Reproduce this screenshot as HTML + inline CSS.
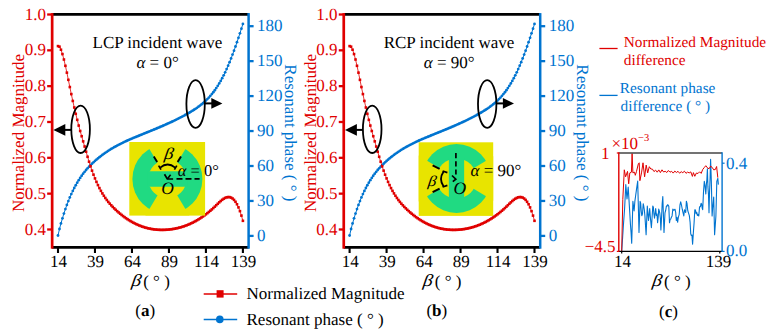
<!DOCTYPE html>
<html><head><meta charset="utf-8"><style>html,body{margin:0;padding:0;background:#fff;overflow:hidden;width:772px;height:334px;}svg{display:block;} text{text-rendering:geometricPrecision;}</style></head>
<body><svg width="772" height="334" viewBox="0 0 772 334" font-family="'Liberation Serif', serif" font-size="17">
<rect width="772" height="334" fill="#fff"/>
<polyline points="58.00,235.50 59.48,228.98 60.96,223.47 62.44,218.33 63.92,213.53 65.40,209.07 66.88,204.91 68.35,201.04 69.83,197.43 71.31,194.07 72.79,190.93 74.27,187.99 75.75,185.23 77.23,182.63 78.71,180.19 80.19,177.90 81.67,175.74 83.15,173.71 84.63,171.80 86.10,170.00 87.58,168.29 89.06,166.68 90.54,165.15 92.02,163.69 93.50,162.30 94.98,160.96 96.46,159.67 97.94,158.42 99.42,157.22 100.90,156.06 102.38,154.93 103.86,153.85 105.33,152.80 106.81,151.79 108.29,150.81 109.77,149.86 111.25,148.95 112.73,148.06 114.21,147.21 115.69,146.38 117.17,145.57 118.65,144.79 120.13,144.03 121.61,143.29 123.08,142.57 124.56,141.87 126.04,141.19 127.52,140.52 129.00,139.86 130.48,139.22 131.96,138.58 133.44,137.96 134.92,137.34 136.40,136.73 137.88,136.13 139.36,135.52 140.84,134.92 142.31,134.32 143.79,133.72 145.27,133.12 146.75,132.52 148.23,131.92 149.71,131.32 151.19,130.72 152.67,130.11 154.15,129.50 155.63,128.88 157.11,128.26 158.59,127.64 160.06,127.01 161.54,126.38 163.02,125.74 164.50,125.09 165.98,124.43 167.46,123.77 168.94,123.10 170.42,122.42 171.90,121.73 173.38,121.03 174.86,120.32 176.34,119.60 177.82,118.86 179.29,118.12 180.77,117.36 182.25,116.59 183.73,115.81 185.21,115.01 186.69,114.19 188.17,113.35 189.65,112.49 191.13,111.60 192.61,110.69 194.09,109.76 195.57,108.79 197.04,107.78 198.52,106.72 200.00,105.62 201.48,104.45 202.96,103.23 204.44,101.93 205.92,100.55 207.40,99.08 208.88,97.53 210.36,95.87 211.84,94.11 213.32,92.24 214.80,90.25 216.27,88.12 217.75,85.87 219.23,83.47 220.71,80.92 222.19,78.22 223.67,75.35 225.15,72.31 226.63,69.10 228.11,65.72 229.59,62.17 231.07,58.47 232.55,54.62 234.02,50.63 235.50,46.49 236.98,42.22 238.46,37.82 239.94,33.30 241.42,28.66 242.90,23.91" fill="none" stroke="#0074d0" stroke-width="1.0"/>
<circle cx="58.00" cy="235.50" r="1.4" fill="#0074d0"/>
<circle cx="59.48" cy="228.98" r="1.4" fill="#0074d0"/>
<circle cx="60.96" cy="223.47" r="1.4" fill="#0074d0"/>
<circle cx="62.44" cy="218.33" r="1.4" fill="#0074d0"/>
<circle cx="63.92" cy="213.53" r="1.4" fill="#0074d0"/>
<circle cx="65.40" cy="209.07" r="1.4" fill="#0074d0"/>
<circle cx="66.88" cy="204.91" r="1.4" fill="#0074d0"/>
<circle cx="68.35" cy="201.04" r="1.4" fill="#0074d0"/>
<circle cx="69.83" cy="197.43" r="1.4" fill="#0074d0"/>
<circle cx="71.31" cy="194.07" r="1.4" fill="#0074d0"/>
<circle cx="72.79" cy="190.93" r="1.4" fill="#0074d0"/>
<circle cx="74.27" cy="187.99" r="1.4" fill="#0074d0"/>
<circle cx="75.75" cy="185.23" r="1.4" fill="#0074d0"/>
<circle cx="77.23" cy="182.63" r="1.4" fill="#0074d0"/>
<circle cx="78.71" cy="180.19" r="1.4" fill="#0074d0"/>
<circle cx="80.19" cy="177.90" r="1.4" fill="#0074d0"/>
<circle cx="81.67" cy="175.74" r="1.4" fill="#0074d0"/>
<circle cx="83.15" cy="173.71" r="1.4" fill="#0074d0"/>
<circle cx="84.63" cy="171.80" r="1.4" fill="#0074d0"/>
<circle cx="86.10" cy="170.00" r="1.4" fill="#0074d0"/>
<circle cx="87.58" cy="168.29" r="1.4" fill="#0074d0"/>
<circle cx="89.06" cy="166.68" r="1.4" fill="#0074d0"/>
<circle cx="90.54" cy="165.15" r="1.4" fill="#0074d0"/>
<circle cx="92.02" cy="163.69" r="1.4" fill="#0074d0"/>
<circle cx="93.50" cy="162.30" r="1.4" fill="#0074d0"/>
<circle cx="94.98" cy="160.96" r="1.4" fill="#0074d0"/>
<circle cx="96.46" cy="159.67" r="1.4" fill="#0074d0"/>
<circle cx="97.94" cy="158.42" r="1.4" fill="#0074d0"/>
<circle cx="99.42" cy="157.22" r="1.4" fill="#0074d0"/>
<circle cx="100.90" cy="156.06" r="1.4" fill="#0074d0"/>
<circle cx="102.38" cy="154.93" r="1.4" fill="#0074d0"/>
<circle cx="103.86" cy="153.85" r="1.4" fill="#0074d0"/>
<circle cx="105.33" cy="152.80" r="1.4" fill="#0074d0"/>
<circle cx="106.81" cy="151.79" r="1.4" fill="#0074d0"/>
<circle cx="108.29" cy="150.81" r="1.4" fill="#0074d0"/>
<circle cx="109.77" cy="149.86" r="1.4" fill="#0074d0"/>
<circle cx="111.25" cy="148.95" r="1.4" fill="#0074d0"/>
<circle cx="112.73" cy="148.06" r="1.4" fill="#0074d0"/>
<circle cx="114.21" cy="147.21" r="1.4" fill="#0074d0"/>
<circle cx="115.69" cy="146.38" r="1.4" fill="#0074d0"/>
<circle cx="117.17" cy="145.57" r="1.4" fill="#0074d0"/>
<circle cx="118.65" cy="144.79" r="1.4" fill="#0074d0"/>
<circle cx="120.13" cy="144.03" r="1.4" fill="#0074d0"/>
<circle cx="121.61" cy="143.29" r="1.4" fill="#0074d0"/>
<circle cx="123.08" cy="142.57" r="1.4" fill="#0074d0"/>
<circle cx="124.56" cy="141.87" r="1.4" fill="#0074d0"/>
<circle cx="126.04" cy="141.19" r="1.4" fill="#0074d0"/>
<circle cx="127.52" cy="140.52" r="1.4" fill="#0074d0"/>
<circle cx="129.00" cy="139.86" r="1.4" fill="#0074d0"/>
<circle cx="130.48" cy="139.22" r="1.4" fill="#0074d0"/>
<circle cx="131.96" cy="138.58" r="1.4" fill="#0074d0"/>
<circle cx="133.44" cy="137.96" r="1.4" fill="#0074d0"/>
<circle cx="134.92" cy="137.34" r="1.4" fill="#0074d0"/>
<circle cx="136.40" cy="136.73" r="1.4" fill="#0074d0"/>
<circle cx="137.88" cy="136.13" r="1.4" fill="#0074d0"/>
<circle cx="139.36" cy="135.52" r="1.4" fill="#0074d0"/>
<circle cx="140.84" cy="134.92" r="1.4" fill="#0074d0"/>
<circle cx="142.31" cy="134.32" r="1.4" fill="#0074d0"/>
<circle cx="143.79" cy="133.72" r="1.4" fill="#0074d0"/>
<circle cx="145.27" cy="133.12" r="1.4" fill="#0074d0"/>
<circle cx="146.75" cy="132.52" r="1.4" fill="#0074d0"/>
<circle cx="148.23" cy="131.92" r="1.4" fill="#0074d0"/>
<circle cx="149.71" cy="131.32" r="1.4" fill="#0074d0"/>
<circle cx="151.19" cy="130.72" r="1.4" fill="#0074d0"/>
<circle cx="152.67" cy="130.11" r="1.4" fill="#0074d0"/>
<circle cx="154.15" cy="129.50" r="1.4" fill="#0074d0"/>
<circle cx="155.63" cy="128.88" r="1.4" fill="#0074d0"/>
<circle cx="157.11" cy="128.26" r="1.4" fill="#0074d0"/>
<circle cx="158.59" cy="127.64" r="1.4" fill="#0074d0"/>
<circle cx="160.06" cy="127.01" r="1.4" fill="#0074d0"/>
<circle cx="161.54" cy="126.38" r="1.4" fill="#0074d0"/>
<circle cx="163.02" cy="125.74" r="1.4" fill="#0074d0"/>
<circle cx="164.50" cy="125.09" r="1.4" fill="#0074d0"/>
<circle cx="165.98" cy="124.43" r="1.4" fill="#0074d0"/>
<circle cx="167.46" cy="123.77" r="1.4" fill="#0074d0"/>
<circle cx="168.94" cy="123.10" r="1.4" fill="#0074d0"/>
<circle cx="170.42" cy="122.42" r="1.4" fill="#0074d0"/>
<circle cx="171.90" cy="121.73" r="1.4" fill="#0074d0"/>
<circle cx="173.38" cy="121.03" r="1.4" fill="#0074d0"/>
<circle cx="174.86" cy="120.32" r="1.4" fill="#0074d0"/>
<circle cx="176.34" cy="119.60" r="1.4" fill="#0074d0"/>
<circle cx="177.82" cy="118.86" r="1.4" fill="#0074d0"/>
<circle cx="179.29" cy="118.12" r="1.4" fill="#0074d0"/>
<circle cx="180.77" cy="117.36" r="1.4" fill="#0074d0"/>
<circle cx="182.25" cy="116.59" r="1.4" fill="#0074d0"/>
<circle cx="183.73" cy="115.81" r="1.4" fill="#0074d0"/>
<circle cx="185.21" cy="115.01" r="1.4" fill="#0074d0"/>
<circle cx="186.69" cy="114.19" r="1.4" fill="#0074d0"/>
<circle cx="188.17" cy="113.35" r="1.4" fill="#0074d0"/>
<circle cx="189.65" cy="112.49" r="1.4" fill="#0074d0"/>
<circle cx="191.13" cy="111.60" r="1.4" fill="#0074d0"/>
<circle cx="192.61" cy="110.69" r="1.4" fill="#0074d0"/>
<circle cx="194.09" cy="109.76" r="1.4" fill="#0074d0"/>
<circle cx="195.57" cy="108.79" r="1.4" fill="#0074d0"/>
<circle cx="197.04" cy="107.78" r="1.4" fill="#0074d0"/>
<circle cx="198.52" cy="106.72" r="1.4" fill="#0074d0"/>
<circle cx="200.00" cy="105.62" r="1.4" fill="#0074d0"/>
<circle cx="201.48" cy="104.45" r="1.4" fill="#0074d0"/>
<circle cx="202.96" cy="103.23" r="1.4" fill="#0074d0"/>
<circle cx="204.44" cy="101.93" r="1.4" fill="#0074d0"/>
<circle cx="205.92" cy="100.55" r="1.4" fill="#0074d0"/>
<circle cx="207.40" cy="99.08" r="1.4" fill="#0074d0"/>
<circle cx="208.88" cy="97.53" r="1.4" fill="#0074d0"/>
<circle cx="210.36" cy="95.87" r="1.4" fill="#0074d0"/>
<circle cx="211.84" cy="94.11" r="1.4" fill="#0074d0"/>
<circle cx="213.32" cy="92.24" r="1.4" fill="#0074d0"/>
<circle cx="214.80" cy="90.25" r="1.4" fill="#0074d0"/>
<circle cx="216.27" cy="88.12" r="1.4" fill="#0074d0"/>
<circle cx="217.75" cy="85.87" r="1.4" fill="#0074d0"/>
<circle cx="219.23" cy="83.47" r="1.4" fill="#0074d0"/>
<circle cx="220.71" cy="80.92" r="1.4" fill="#0074d0"/>
<circle cx="222.19" cy="78.22" r="1.4" fill="#0074d0"/>
<circle cx="223.67" cy="75.35" r="1.4" fill="#0074d0"/>
<circle cx="225.15" cy="72.31" r="1.4" fill="#0074d0"/>
<circle cx="226.63" cy="69.10" r="1.4" fill="#0074d0"/>
<circle cx="228.11" cy="65.72" r="1.4" fill="#0074d0"/>
<circle cx="229.59" cy="62.17" r="1.4" fill="#0074d0"/>
<circle cx="231.07" cy="58.47" r="1.4" fill="#0074d0"/>
<circle cx="232.55" cy="54.62" r="1.4" fill="#0074d0"/>
<circle cx="234.02" cy="50.63" r="1.4" fill="#0074d0"/>
<circle cx="235.50" cy="46.49" r="1.4" fill="#0074d0"/>
<circle cx="236.98" cy="42.22" r="1.4" fill="#0074d0"/>
<circle cx="238.46" cy="37.82" r="1.4" fill="#0074d0"/>
<circle cx="239.94" cy="33.30" r="1.4" fill="#0074d0"/>
<circle cx="241.42" cy="28.66" r="1.4" fill="#0074d0"/>
<circle cx="242.90" cy="23.91" r="1.4" fill="#0074d0"/>
<polyline points="58.00,46.10 59.48,46.67 60.96,49.70 62.44,54.07 63.92,59.52 65.40,65.80 66.88,72.65 68.35,79.82 69.83,87.04 71.31,94.10 72.79,100.93 74.27,107.50 75.75,113.81 77.23,119.84 78.71,125.57 80.19,131.00 81.67,136.22 83.15,141.36 84.63,146.52 86.10,151.69 87.58,156.78 89.06,161.68 90.54,166.32 92.02,170.64 93.50,174.67 94.98,178.41 96.46,181.88 97.94,185.10 99.42,188.09 100.90,190.85 102.38,193.41 103.86,195.78 105.33,197.97 106.81,200.01 108.29,201.90 109.77,203.67 111.25,205.33 112.73,206.89 114.21,208.37 115.69,209.79 117.17,211.16 118.65,212.47 120.13,213.72 121.61,214.93 123.08,216.08 124.56,217.18 126.04,218.22 127.52,219.22 129.00,220.17 130.48,221.07 131.96,221.92 133.44,222.73 134.92,223.49 136.40,224.20 137.88,224.86 139.36,225.49 140.84,226.06 142.31,226.60 143.79,227.09 145.27,227.54 146.75,227.94 148.23,228.31 149.71,228.64 151.19,228.92 152.67,229.17 154.15,229.38 155.63,229.56 157.11,229.69 158.59,229.79 160.06,229.86 161.54,229.89 163.02,229.88 164.50,229.84 165.98,229.77 167.46,229.67 168.94,229.54 170.42,229.37 171.90,229.17 173.38,228.94 174.86,228.68 176.34,228.38 177.82,228.04 179.29,227.67 180.77,227.27 182.25,226.83 183.73,226.35 185.21,225.83 186.69,225.27 188.17,224.68 189.65,224.04 191.13,223.37 192.61,222.66 194.09,221.90 195.57,221.10 197.04,220.26 198.52,219.38 200.00,218.45 201.48,217.48 202.96,216.46 204.44,215.40 205.92,214.30 207.40,213.14 208.88,211.94 210.36,210.70 211.84,209.40 213.32,208.06 214.80,206.66 216.27,205.22 217.75,203.77 219.23,202.35 220.71,201.02 222.19,199.80 223.67,198.75 225.15,197.92 226.63,197.34 228.11,197.07 229.59,197.14 231.07,197.60 232.55,198.50 234.02,199.89 235.50,201.80 236.98,204.28 238.46,207.37 239.94,211.13 241.42,215.60 242.90,220.81" fill="none" stroke="#e00000" stroke-width="0.8"/>
<rect x="56.70" y="44.80" width="2.6" height="2.6" fill="#e00000"/>
<rect x="58.18" y="45.37" width="2.6" height="2.6" fill="#e00000"/>
<rect x="59.66" y="48.40" width="2.6" height="2.6" fill="#e00000"/>
<rect x="61.14" y="52.77" width="2.6" height="2.6" fill="#e00000"/>
<rect x="62.62" y="58.22" width="2.6" height="2.6" fill="#e00000"/>
<rect x="64.10" y="64.50" width="2.6" height="2.6" fill="#e00000"/>
<rect x="65.58" y="71.35" width="2.6" height="2.6" fill="#e00000"/>
<rect x="67.05" y="78.52" width="2.6" height="2.6" fill="#e00000"/>
<rect x="68.53" y="85.74" width="2.6" height="2.6" fill="#e00000"/>
<rect x="70.01" y="92.80" width="2.6" height="2.6" fill="#e00000"/>
<rect x="71.49" y="99.63" width="2.6" height="2.6" fill="#e00000"/>
<rect x="72.97" y="106.20" width="2.6" height="2.6" fill="#e00000"/>
<rect x="74.45" y="112.51" width="2.6" height="2.6" fill="#e00000"/>
<rect x="75.93" y="118.54" width="2.6" height="2.6" fill="#e00000"/>
<rect x="77.41" y="124.27" width="2.6" height="2.6" fill="#e00000"/>
<rect x="78.89" y="129.70" width="2.6" height="2.6" fill="#e00000"/>
<rect x="80.37" y="134.92" width="2.6" height="2.6" fill="#e00000"/>
<rect x="81.85" y="140.06" width="2.6" height="2.6" fill="#e00000"/>
<rect x="83.33" y="145.22" width="2.6" height="2.6" fill="#e00000"/>
<rect x="84.80" y="150.39" width="2.6" height="2.6" fill="#e00000"/>
<rect x="86.28" y="155.48" width="2.6" height="2.6" fill="#e00000"/>
<rect x="87.76" y="160.38" width="2.6" height="2.6" fill="#e00000"/>
<rect x="89.24" y="165.02" width="2.6" height="2.6" fill="#e00000"/>
<rect x="90.72" y="169.34" width="2.6" height="2.6" fill="#e00000"/>
<rect x="92.20" y="173.37" width="2.6" height="2.6" fill="#e00000"/>
<rect x="93.68" y="177.11" width="2.6" height="2.6" fill="#e00000"/>
<rect x="95.16" y="180.58" width="2.6" height="2.6" fill="#e00000"/>
<rect x="96.64" y="183.80" width="2.6" height="2.6" fill="#e00000"/>
<rect x="98.12" y="186.79" width="2.6" height="2.6" fill="#e00000"/>
<rect x="99.60" y="189.55" width="2.6" height="2.6" fill="#e00000"/>
<rect x="101.08" y="192.11" width="2.6" height="2.6" fill="#e00000"/>
<rect x="102.56" y="194.48" width="2.6" height="2.6" fill="#e00000"/>
<rect x="104.03" y="196.67" width="2.6" height="2.6" fill="#e00000"/>
<rect x="105.51" y="198.71" width="2.6" height="2.6" fill="#e00000"/>
<rect x="106.99" y="200.60" width="2.6" height="2.6" fill="#e00000"/>
<rect x="108.47" y="202.37" width="2.6" height="2.6" fill="#e00000"/>
<rect x="109.95" y="204.03" width="2.6" height="2.6" fill="#e00000"/>
<rect x="111.43" y="205.59" width="2.6" height="2.6" fill="#e00000"/>
<rect x="112.91" y="207.07" width="2.6" height="2.6" fill="#e00000"/>
<rect x="114.39" y="208.49" width="2.6" height="2.6" fill="#e00000"/>
<rect x="115.87" y="209.86" width="2.6" height="2.6" fill="#e00000"/>
<rect x="117.35" y="211.17" width="2.6" height="2.6" fill="#e00000"/>
<rect x="118.83" y="212.42" width="2.6" height="2.6" fill="#e00000"/>
<rect x="120.31" y="213.63" width="2.6" height="2.6" fill="#e00000"/>
<rect x="121.78" y="214.78" width="2.6" height="2.6" fill="#e00000"/>
<rect x="123.26" y="215.88" width="2.6" height="2.6" fill="#e00000"/>
<rect x="124.74" y="216.92" width="2.6" height="2.6" fill="#e00000"/>
<rect x="126.22" y="217.92" width="2.6" height="2.6" fill="#e00000"/>
<rect x="127.70" y="218.87" width="2.6" height="2.6" fill="#e00000"/>
<rect x="129.18" y="219.77" width="2.6" height="2.6" fill="#e00000"/>
<rect x="130.66" y="220.62" width="2.6" height="2.6" fill="#e00000"/>
<rect x="132.14" y="221.43" width="2.6" height="2.6" fill="#e00000"/>
<rect x="133.62" y="222.19" width="2.6" height="2.6" fill="#e00000"/>
<rect x="135.10" y="222.90" width="2.6" height="2.6" fill="#e00000"/>
<rect x="136.58" y="223.56" width="2.6" height="2.6" fill="#e00000"/>
<rect x="138.06" y="224.19" width="2.6" height="2.6" fill="#e00000"/>
<rect x="139.54" y="224.76" width="2.6" height="2.6" fill="#e00000"/>
<rect x="141.01" y="225.30" width="2.6" height="2.6" fill="#e00000"/>
<rect x="142.49" y="225.79" width="2.6" height="2.6" fill="#e00000"/>
<rect x="143.97" y="226.24" width="2.6" height="2.6" fill="#e00000"/>
<rect x="145.45" y="226.64" width="2.6" height="2.6" fill="#e00000"/>
<rect x="146.93" y="227.01" width="2.6" height="2.6" fill="#e00000"/>
<rect x="148.41" y="227.34" width="2.6" height="2.6" fill="#e00000"/>
<rect x="149.89" y="227.62" width="2.6" height="2.6" fill="#e00000"/>
<rect x="151.37" y="227.87" width="2.6" height="2.6" fill="#e00000"/>
<rect x="152.85" y="228.08" width="2.6" height="2.6" fill="#e00000"/>
<rect x="154.33" y="228.26" width="2.6" height="2.6" fill="#e00000"/>
<rect x="155.81" y="228.39" width="2.6" height="2.6" fill="#e00000"/>
<rect x="157.29" y="228.49" width="2.6" height="2.6" fill="#e00000"/>
<rect x="158.76" y="228.56" width="2.6" height="2.6" fill="#e00000"/>
<rect x="160.24" y="228.59" width="2.6" height="2.6" fill="#e00000"/>
<rect x="161.72" y="228.58" width="2.6" height="2.6" fill="#e00000"/>
<rect x="163.20" y="228.54" width="2.6" height="2.6" fill="#e00000"/>
<rect x="164.68" y="228.47" width="2.6" height="2.6" fill="#e00000"/>
<rect x="166.16" y="228.37" width="2.6" height="2.6" fill="#e00000"/>
<rect x="167.64" y="228.24" width="2.6" height="2.6" fill="#e00000"/>
<rect x="169.12" y="228.07" width="2.6" height="2.6" fill="#e00000"/>
<rect x="170.60" y="227.87" width="2.6" height="2.6" fill="#e00000"/>
<rect x="172.08" y="227.64" width="2.6" height="2.6" fill="#e00000"/>
<rect x="173.56" y="227.38" width="2.6" height="2.6" fill="#e00000"/>
<rect x="175.04" y="227.08" width="2.6" height="2.6" fill="#e00000"/>
<rect x="176.52" y="226.74" width="2.6" height="2.6" fill="#e00000"/>
<rect x="177.99" y="226.37" width="2.6" height="2.6" fill="#e00000"/>
<rect x="179.47" y="225.97" width="2.6" height="2.6" fill="#e00000"/>
<rect x="180.95" y="225.53" width="2.6" height="2.6" fill="#e00000"/>
<rect x="182.43" y="225.05" width="2.6" height="2.6" fill="#e00000"/>
<rect x="183.91" y="224.53" width="2.6" height="2.6" fill="#e00000"/>
<rect x="185.39" y="223.97" width="2.6" height="2.6" fill="#e00000"/>
<rect x="186.87" y="223.38" width="2.6" height="2.6" fill="#e00000"/>
<rect x="188.35" y="222.74" width="2.6" height="2.6" fill="#e00000"/>
<rect x="189.83" y="222.07" width="2.6" height="2.6" fill="#e00000"/>
<rect x="191.31" y="221.36" width="2.6" height="2.6" fill="#e00000"/>
<rect x="192.79" y="220.60" width="2.6" height="2.6" fill="#e00000"/>
<rect x="194.27" y="219.80" width="2.6" height="2.6" fill="#e00000"/>
<rect x="195.74" y="218.96" width="2.6" height="2.6" fill="#e00000"/>
<rect x="197.22" y="218.08" width="2.6" height="2.6" fill="#e00000"/>
<rect x="198.70" y="217.15" width="2.6" height="2.6" fill="#e00000"/>
<rect x="200.18" y="216.18" width="2.6" height="2.6" fill="#e00000"/>
<rect x="201.66" y="215.16" width="2.6" height="2.6" fill="#e00000"/>
<rect x="203.14" y="214.10" width="2.6" height="2.6" fill="#e00000"/>
<rect x="204.62" y="213.00" width="2.6" height="2.6" fill="#e00000"/>
<rect x="206.10" y="211.84" width="2.6" height="2.6" fill="#e00000"/>
<rect x="207.58" y="210.64" width="2.6" height="2.6" fill="#e00000"/>
<rect x="209.06" y="209.40" width="2.6" height="2.6" fill="#e00000"/>
<rect x="210.54" y="208.10" width="2.6" height="2.6" fill="#e00000"/>
<rect x="212.02" y="206.76" width="2.6" height="2.6" fill="#e00000"/>
<rect x="213.50" y="205.36" width="2.6" height="2.6" fill="#e00000"/>
<rect x="214.97" y="203.92" width="2.6" height="2.6" fill="#e00000"/>
<rect x="216.45" y="202.47" width="2.6" height="2.6" fill="#e00000"/>
<rect x="217.93" y="201.05" width="2.6" height="2.6" fill="#e00000"/>
<rect x="219.41" y="199.72" width="2.6" height="2.6" fill="#e00000"/>
<rect x="220.89" y="198.50" width="2.6" height="2.6" fill="#e00000"/>
<rect x="222.37" y="197.45" width="2.6" height="2.6" fill="#e00000"/>
<rect x="223.85" y="196.62" width="2.6" height="2.6" fill="#e00000"/>
<rect x="225.33" y="196.04" width="2.6" height="2.6" fill="#e00000"/>
<rect x="226.81" y="195.77" width="2.6" height="2.6" fill="#e00000"/>
<rect x="228.29" y="195.84" width="2.6" height="2.6" fill="#e00000"/>
<rect x="229.77" y="196.30" width="2.6" height="2.6" fill="#e00000"/>
<rect x="231.25" y="197.20" width="2.6" height="2.6" fill="#e00000"/>
<rect x="232.72" y="198.59" width="2.6" height="2.6" fill="#e00000"/>
<rect x="234.20" y="200.50" width="2.6" height="2.6" fill="#e00000"/>
<rect x="235.68" y="202.98" width="2.6" height="2.6" fill="#e00000"/>
<rect x="237.16" y="206.07" width="2.6" height="2.6" fill="#e00000"/>
<rect x="238.64" y="209.83" width="2.6" height="2.6" fill="#e00000"/>
<rect x="240.12" y="214.30" width="2.6" height="2.6" fill="#e00000"/>
<rect x="241.60" y="219.51" width="2.6" height="2.6" fill="#e00000"/>
<line x1="52.15" y1="14.45" x2="248.60" y2="14.45" stroke="#000" stroke-width="2.7"/>
<line x1="52.15" y1="247.4" x2="248.60" y2="247.4" stroke="#000" stroke-width="2.7"/>
<line x1="52.15" y1="13.1" x2="52.15" y2="248.7" stroke="#e00000" stroke-width="2.7"/>
<line x1="248.60" y1="13.1" x2="248.60" y2="248.7" stroke="#0074d0" stroke-width="2.5"/>
<line x1="47.15" y1="14.50" x2="52.15" y2="14.50" stroke="#e00000" stroke-width="2.3"/>
<text x="45.95" y="19.60" fill="#e00000" text-anchor="end">1.0</text>
<line x1="47.15" y1="50.33" x2="52.15" y2="50.33" stroke="#e00000" stroke-width="2.3"/>
<text x="45.95" y="55.43" fill="#e00000" text-anchor="end">0.9</text>
<line x1="47.15" y1="86.16" x2="52.15" y2="86.16" stroke="#e00000" stroke-width="2.3"/>
<text x="45.95" y="91.26" fill="#e00000" text-anchor="end">0.8</text>
<line x1="47.15" y1="121.99" x2="52.15" y2="121.99" stroke="#e00000" stroke-width="2.3"/>
<text x="45.95" y="127.09" fill="#e00000" text-anchor="end">0.7</text>
<line x1="47.15" y1="157.82" x2="52.15" y2="157.82" stroke="#e00000" stroke-width="2.3"/>
<text x="45.95" y="162.92" fill="#e00000" text-anchor="end">0.6</text>
<line x1="47.15" y1="193.65" x2="52.15" y2="193.65" stroke="#e00000" stroke-width="2.3"/>
<text x="45.95" y="198.75" fill="#e00000" text-anchor="end">0.5</text>
<line x1="47.15" y1="229.48" x2="52.15" y2="229.48" stroke="#e00000" stroke-width="2.3"/>
<text x="45.95" y="234.58" fill="#e00000" text-anchor="end">0.4</text>
<line x1="248.60" y1="26.20" x2="253.60" y2="26.20" stroke="#0074d0" stroke-width="2.3"/>
<text x="257.10" y="31.00" fill="#0074d0">180</text>
<line x1="248.60" y1="61.15" x2="253.60" y2="61.15" stroke="#0074d0" stroke-width="2.3"/>
<text x="257.10" y="65.95" fill="#0074d0">150</text>
<line x1="248.60" y1="96.10" x2="253.60" y2="96.10" stroke="#0074d0" stroke-width="2.3"/>
<text x="257.10" y="100.90" fill="#0074d0">120</text>
<line x1="248.60" y1="131.05" x2="253.60" y2="131.05" stroke="#0074d0" stroke-width="2.3"/>
<text x="257.10" y="135.85" fill="#0074d0">90</text>
<line x1="248.60" y1="166.00" x2="253.60" y2="166.00" stroke="#0074d0" stroke-width="2.3"/>
<text x="257.10" y="170.80" fill="#0074d0">60</text>
<line x1="248.60" y1="200.95" x2="253.60" y2="200.95" stroke="#0074d0" stroke-width="2.3"/>
<text x="257.10" y="205.75" fill="#0074d0">30</text>
<line x1="248.60" y1="235.90" x2="253.60" y2="235.90" stroke="#0074d0" stroke-width="2.3"/>
<text x="257.10" y="240.70" fill="#0074d0">0</text>
<line x1="58.00" y1="247.4" x2="58.00" y2="253" stroke="#000" stroke-width="2.1"/>
<text x="58.60" y="267.2" fill="#000" text-anchor="middle">14</text>
<line x1="94.98" y1="247.4" x2="94.98" y2="253" stroke="#000" stroke-width="2.1"/>
<text x="95.58" y="267.2" fill="#000" text-anchor="middle">39</text>
<line x1="131.96" y1="247.4" x2="131.96" y2="253" stroke="#000" stroke-width="2.1"/>
<text x="132.56" y="267.2" fill="#000" text-anchor="middle">64</text>
<line x1="168.94" y1="247.4" x2="168.94" y2="253" stroke="#000" stroke-width="2.1"/>
<text x="169.54" y="267.2" fill="#000" text-anchor="middle">89</text>
<line x1="205.92" y1="247.4" x2="205.92" y2="253" stroke="#000" stroke-width="2.1"/>
<text x="206.52" y="267.2" fill="#000" text-anchor="middle">114</text>
<line x1="242.90" y1="247.4" x2="242.90" y2="253" stroke="#000" stroke-width="2.1"/>
<text x="243.50" y="267.2" fill="#000" text-anchor="middle">139</text>
<text transform="translate(24.00,133) rotate(-90)" fill="#e00000" text-anchor="middle">Normalized Magnitude</text>
<text transform="translate(285.10,132.9) rotate(90)" fill="#0074d0" text-anchor="middle">Resonant phase ( ° )</text>
<text transform="translate(130.90,285.5) skewX(-8) scale(1.14,1)" fill="#000" font-style="italic">β</text><text x="143.20" y="286.6" fill="#000">( ° )</text>
<text x="145.20" y="316" fill="#000" text-anchor="middle" >(<tspan font-weight="bold">a</tspan>)</text>
<text x="157.40" y="47.5" fill="#000" text-anchor="middle">LCP incident wave</text>
<text x="157.60" y="67.5" fill="#000" text-anchor="middle"><tspan font-style="italic">α</tspan> = 0°</text>
<ellipse cx="80.60" cy="129.3" rx="9.3" ry="23.7" fill="none" stroke="#000" stroke-width="1.8"/>
<line x1="64.00" y1="129.9" x2="71.30" y2="129.9" stroke="#000" stroke-width="2"/>
<polygon points="53.40,129.9 65.30,124.1 65.30,135.8" fill="#000"/>
<ellipse cx="195.60" cy="104" rx="9.2" ry="23.8" fill="none" stroke="#000" stroke-width="1.8"/>
<line x1="204.60" y1="103.4" x2="212.00" y2="103.4" stroke="#000" stroke-width="2"/>
<polygon points="222.40,103.4 211.30,98 211.30,108.7" fill="#000"/>
<clipPath id="ca"><rect x="129.3" y="142" width="75.8" height="73.6"/></clipPath>
<rect x="129.3" y="142" width="75.8" height="73.6" fill="#e8e400"/>
<g clip-path="url(#ca)">
<circle cx="167.4" cy="179.0" r="35.0" fill="#20da82"/>
<polygon points="167.4,179.0 131.35,119.00 203.45,119.00" fill="#e8e400"/>
<polygon points="167.4,179.0 131.35,239.00 203.45,239.00" fill="#e8e400"/>
<circle cx="167.4" cy="179.0" r="19.2" fill="#e8e400"/>
<rect x="147.20" y="171.25" width="40.40" height="15.5" fill="#20da82"/>
</g>
<line x1="153.8" y1="156.6" x2="157.2" y2="162" stroke="#000" stroke-width="1.9"/>
<line x1="181.0" y1="156.6" x2="177.6" y2="162" stroke="#000" stroke-width="1.9"/>
<path d="M160.2,167.6 Q167.6,161.4 175.2,167.6" fill="none" stroke="#000" stroke-width="1.8"/>
<path d="M158.6,165.6 L161,169.6" fill="none" stroke="#000" stroke-width="1.7"/>
<path d="M176.8,165.6 L174.4,169.6" fill="none" stroke="#000" stroke-width="1.7"/>
<polyline points="164.5,174.2 167.3,179 173.1,179" fill="none" stroke="#000" stroke-width="1.7"/>
<line x1="167.3" y1="179" x2="170.6" y2="174.8" stroke="#000" stroke-width="1.6"/>
<line x1="176.5" y1="178.9" x2="199.6" y2="178.9" stroke="#000" stroke-width="1.7" stroke-dasharray="6,3"/>
<text transform="translate(168.3,158.8) skewX(-8) scale(1.12,1)" fill="#000" font-style="italic" text-anchor="middle" font-size="16.5">β</text>
<text x="167.6" y="193.8" fill="#000" font-style="italic" text-anchor="middle" font-size="17.5">O</text>
<text x="177.8" y="175.6" fill="#000" font-size="16.5"><tspan font-style="italic">α</tspan> = 0°</text>

<polyline points="349.60,235.50 351.08,228.98 352.56,223.47 354.04,218.33 355.52,213.53 357.00,209.07 358.48,204.91 359.95,201.04 361.43,197.43 362.91,194.07 364.39,190.93 365.87,187.99 367.35,185.23 368.83,182.63 370.31,180.19 371.79,177.90 373.27,175.74 374.75,173.71 376.23,171.80 377.70,170.00 379.18,168.29 380.66,166.68 382.14,165.15 383.62,163.69 385.10,162.30 386.58,160.96 388.06,159.67 389.54,158.42 391.02,157.22 392.50,156.06 393.98,154.93 395.46,153.85 396.93,152.80 398.41,151.79 399.89,150.81 401.37,149.86 402.85,148.95 404.33,148.06 405.81,147.21 407.29,146.38 408.77,145.57 410.25,144.79 411.73,144.03 413.21,143.29 414.68,142.57 416.16,141.87 417.64,141.19 419.12,140.52 420.60,139.86 422.08,139.22 423.56,138.58 425.04,137.96 426.52,137.34 428.00,136.73 429.48,136.13 430.96,135.52 432.44,134.92 433.91,134.32 435.39,133.72 436.87,133.12 438.35,132.52 439.83,131.92 441.31,131.32 442.79,130.72 444.27,130.11 445.75,129.50 447.23,128.88 448.71,128.26 450.19,127.64 451.66,127.01 453.14,126.38 454.62,125.74 456.10,125.09 457.58,124.43 459.06,123.77 460.54,123.10 462.02,122.42 463.50,121.73 464.98,121.03 466.46,120.32 467.94,119.60 469.42,118.86 470.89,118.12 472.37,117.36 473.85,116.59 475.33,115.81 476.81,115.01 478.29,114.19 479.77,113.35 481.25,112.49 482.73,111.60 484.21,110.69 485.69,109.76 487.17,108.79 488.64,107.78 490.12,106.72 491.60,105.62 493.08,104.45 494.56,103.23 496.04,101.93 497.52,100.55 499.00,99.08 500.48,97.53 501.96,95.87 503.44,94.11 504.92,92.24 506.40,90.25 507.87,88.12 509.35,85.87 510.83,83.47 512.31,80.92 513.79,78.22 515.27,75.35 516.75,72.31 518.23,69.10 519.71,65.72 521.19,62.17 522.67,58.47 524.15,54.62 525.62,50.63 527.10,46.49 528.58,42.22 530.06,37.82 531.54,33.30 533.02,28.66 534.50,23.91" fill="none" stroke="#0074d0" stroke-width="1.0"/>
<circle cx="349.60" cy="235.50" r="1.4" fill="#0074d0"/>
<circle cx="351.08" cy="228.98" r="1.4" fill="#0074d0"/>
<circle cx="352.56" cy="223.47" r="1.4" fill="#0074d0"/>
<circle cx="354.04" cy="218.33" r="1.4" fill="#0074d0"/>
<circle cx="355.52" cy="213.53" r="1.4" fill="#0074d0"/>
<circle cx="357.00" cy="209.07" r="1.4" fill="#0074d0"/>
<circle cx="358.48" cy="204.91" r="1.4" fill="#0074d0"/>
<circle cx="359.95" cy="201.04" r="1.4" fill="#0074d0"/>
<circle cx="361.43" cy="197.43" r="1.4" fill="#0074d0"/>
<circle cx="362.91" cy="194.07" r="1.4" fill="#0074d0"/>
<circle cx="364.39" cy="190.93" r="1.4" fill="#0074d0"/>
<circle cx="365.87" cy="187.99" r="1.4" fill="#0074d0"/>
<circle cx="367.35" cy="185.23" r="1.4" fill="#0074d0"/>
<circle cx="368.83" cy="182.63" r="1.4" fill="#0074d0"/>
<circle cx="370.31" cy="180.19" r="1.4" fill="#0074d0"/>
<circle cx="371.79" cy="177.90" r="1.4" fill="#0074d0"/>
<circle cx="373.27" cy="175.74" r="1.4" fill="#0074d0"/>
<circle cx="374.75" cy="173.71" r="1.4" fill="#0074d0"/>
<circle cx="376.23" cy="171.80" r="1.4" fill="#0074d0"/>
<circle cx="377.70" cy="170.00" r="1.4" fill="#0074d0"/>
<circle cx="379.18" cy="168.29" r="1.4" fill="#0074d0"/>
<circle cx="380.66" cy="166.68" r="1.4" fill="#0074d0"/>
<circle cx="382.14" cy="165.15" r="1.4" fill="#0074d0"/>
<circle cx="383.62" cy="163.69" r="1.4" fill="#0074d0"/>
<circle cx="385.10" cy="162.30" r="1.4" fill="#0074d0"/>
<circle cx="386.58" cy="160.96" r="1.4" fill="#0074d0"/>
<circle cx="388.06" cy="159.67" r="1.4" fill="#0074d0"/>
<circle cx="389.54" cy="158.42" r="1.4" fill="#0074d0"/>
<circle cx="391.02" cy="157.22" r="1.4" fill="#0074d0"/>
<circle cx="392.50" cy="156.06" r="1.4" fill="#0074d0"/>
<circle cx="393.98" cy="154.93" r="1.4" fill="#0074d0"/>
<circle cx="395.46" cy="153.85" r="1.4" fill="#0074d0"/>
<circle cx="396.93" cy="152.80" r="1.4" fill="#0074d0"/>
<circle cx="398.41" cy="151.79" r="1.4" fill="#0074d0"/>
<circle cx="399.89" cy="150.81" r="1.4" fill="#0074d0"/>
<circle cx="401.37" cy="149.86" r="1.4" fill="#0074d0"/>
<circle cx="402.85" cy="148.95" r="1.4" fill="#0074d0"/>
<circle cx="404.33" cy="148.06" r="1.4" fill="#0074d0"/>
<circle cx="405.81" cy="147.21" r="1.4" fill="#0074d0"/>
<circle cx="407.29" cy="146.38" r="1.4" fill="#0074d0"/>
<circle cx="408.77" cy="145.57" r="1.4" fill="#0074d0"/>
<circle cx="410.25" cy="144.79" r="1.4" fill="#0074d0"/>
<circle cx="411.73" cy="144.03" r="1.4" fill="#0074d0"/>
<circle cx="413.21" cy="143.29" r="1.4" fill="#0074d0"/>
<circle cx="414.68" cy="142.57" r="1.4" fill="#0074d0"/>
<circle cx="416.16" cy="141.87" r="1.4" fill="#0074d0"/>
<circle cx="417.64" cy="141.19" r="1.4" fill="#0074d0"/>
<circle cx="419.12" cy="140.52" r="1.4" fill="#0074d0"/>
<circle cx="420.60" cy="139.86" r="1.4" fill="#0074d0"/>
<circle cx="422.08" cy="139.22" r="1.4" fill="#0074d0"/>
<circle cx="423.56" cy="138.58" r="1.4" fill="#0074d0"/>
<circle cx="425.04" cy="137.96" r="1.4" fill="#0074d0"/>
<circle cx="426.52" cy="137.34" r="1.4" fill="#0074d0"/>
<circle cx="428.00" cy="136.73" r="1.4" fill="#0074d0"/>
<circle cx="429.48" cy="136.13" r="1.4" fill="#0074d0"/>
<circle cx="430.96" cy="135.52" r="1.4" fill="#0074d0"/>
<circle cx="432.44" cy="134.92" r="1.4" fill="#0074d0"/>
<circle cx="433.91" cy="134.32" r="1.4" fill="#0074d0"/>
<circle cx="435.39" cy="133.72" r="1.4" fill="#0074d0"/>
<circle cx="436.87" cy="133.12" r="1.4" fill="#0074d0"/>
<circle cx="438.35" cy="132.52" r="1.4" fill="#0074d0"/>
<circle cx="439.83" cy="131.92" r="1.4" fill="#0074d0"/>
<circle cx="441.31" cy="131.32" r="1.4" fill="#0074d0"/>
<circle cx="442.79" cy="130.72" r="1.4" fill="#0074d0"/>
<circle cx="444.27" cy="130.11" r="1.4" fill="#0074d0"/>
<circle cx="445.75" cy="129.50" r="1.4" fill="#0074d0"/>
<circle cx="447.23" cy="128.88" r="1.4" fill="#0074d0"/>
<circle cx="448.71" cy="128.26" r="1.4" fill="#0074d0"/>
<circle cx="450.19" cy="127.64" r="1.4" fill="#0074d0"/>
<circle cx="451.66" cy="127.01" r="1.4" fill="#0074d0"/>
<circle cx="453.14" cy="126.38" r="1.4" fill="#0074d0"/>
<circle cx="454.62" cy="125.74" r="1.4" fill="#0074d0"/>
<circle cx="456.10" cy="125.09" r="1.4" fill="#0074d0"/>
<circle cx="457.58" cy="124.43" r="1.4" fill="#0074d0"/>
<circle cx="459.06" cy="123.77" r="1.4" fill="#0074d0"/>
<circle cx="460.54" cy="123.10" r="1.4" fill="#0074d0"/>
<circle cx="462.02" cy="122.42" r="1.4" fill="#0074d0"/>
<circle cx="463.50" cy="121.73" r="1.4" fill="#0074d0"/>
<circle cx="464.98" cy="121.03" r="1.4" fill="#0074d0"/>
<circle cx="466.46" cy="120.32" r="1.4" fill="#0074d0"/>
<circle cx="467.94" cy="119.60" r="1.4" fill="#0074d0"/>
<circle cx="469.42" cy="118.86" r="1.4" fill="#0074d0"/>
<circle cx="470.89" cy="118.12" r="1.4" fill="#0074d0"/>
<circle cx="472.37" cy="117.36" r="1.4" fill="#0074d0"/>
<circle cx="473.85" cy="116.59" r="1.4" fill="#0074d0"/>
<circle cx="475.33" cy="115.81" r="1.4" fill="#0074d0"/>
<circle cx="476.81" cy="115.01" r="1.4" fill="#0074d0"/>
<circle cx="478.29" cy="114.19" r="1.4" fill="#0074d0"/>
<circle cx="479.77" cy="113.35" r="1.4" fill="#0074d0"/>
<circle cx="481.25" cy="112.49" r="1.4" fill="#0074d0"/>
<circle cx="482.73" cy="111.60" r="1.4" fill="#0074d0"/>
<circle cx="484.21" cy="110.69" r="1.4" fill="#0074d0"/>
<circle cx="485.69" cy="109.76" r="1.4" fill="#0074d0"/>
<circle cx="487.17" cy="108.79" r="1.4" fill="#0074d0"/>
<circle cx="488.64" cy="107.78" r="1.4" fill="#0074d0"/>
<circle cx="490.12" cy="106.72" r="1.4" fill="#0074d0"/>
<circle cx="491.60" cy="105.62" r="1.4" fill="#0074d0"/>
<circle cx="493.08" cy="104.45" r="1.4" fill="#0074d0"/>
<circle cx="494.56" cy="103.23" r="1.4" fill="#0074d0"/>
<circle cx="496.04" cy="101.93" r="1.4" fill="#0074d0"/>
<circle cx="497.52" cy="100.55" r="1.4" fill="#0074d0"/>
<circle cx="499.00" cy="99.08" r="1.4" fill="#0074d0"/>
<circle cx="500.48" cy="97.53" r="1.4" fill="#0074d0"/>
<circle cx="501.96" cy="95.87" r="1.4" fill="#0074d0"/>
<circle cx="503.44" cy="94.11" r="1.4" fill="#0074d0"/>
<circle cx="504.92" cy="92.24" r="1.4" fill="#0074d0"/>
<circle cx="506.40" cy="90.25" r="1.4" fill="#0074d0"/>
<circle cx="507.87" cy="88.12" r="1.4" fill="#0074d0"/>
<circle cx="509.35" cy="85.87" r="1.4" fill="#0074d0"/>
<circle cx="510.83" cy="83.47" r="1.4" fill="#0074d0"/>
<circle cx="512.31" cy="80.92" r="1.4" fill="#0074d0"/>
<circle cx="513.79" cy="78.22" r="1.4" fill="#0074d0"/>
<circle cx="515.27" cy="75.35" r="1.4" fill="#0074d0"/>
<circle cx="516.75" cy="72.31" r="1.4" fill="#0074d0"/>
<circle cx="518.23" cy="69.10" r="1.4" fill="#0074d0"/>
<circle cx="519.71" cy="65.72" r="1.4" fill="#0074d0"/>
<circle cx="521.19" cy="62.17" r="1.4" fill="#0074d0"/>
<circle cx="522.67" cy="58.47" r="1.4" fill="#0074d0"/>
<circle cx="524.15" cy="54.62" r="1.4" fill="#0074d0"/>
<circle cx="525.62" cy="50.63" r="1.4" fill="#0074d0"/>
<circle cx="527.10" cy="46.49" r="1.4" fill="#0074d0"/>
<circle cx="528.58" cy="42.22" r="1.4" fill="#0074d0"/>
<circle cx="530.06" cy="37.82" r="1.4" fill="#0074d0"/>
<circle cx="531.54" cy="33.30" r="1.4" fill="#0074d0"/>
<circle cx="533.02" cy="28.66" r="1.4" fill="#0074d0"/>
<circle cx="534.50" cy="23.91" r="1.4" fill="#0074d0"/>
<polyline points="349.60,46.10 351.08,46.67 352.56,49.70 354.04,54.07 355.52,59.52 357.00,65.80 358.48,72.65 359.95,79.82 361.43,87.04 362.91,94.10 364.39,100.93 365.87,107.50 367.35,113.81 368.83,119.84 370.31,125.57 371.79,131.00 373.27,136.22 374.75,141.36 376.23,146.52 377.70,151.69 379.18,156.78 380.66,161.68 382.14,166.32 383.62,170.64 385.10,174.67 386.58,178.41 388.06,181.88 389.54,185.10 391.02,188.09 392.50,190.85 393.98,193.41 395.46,195.78 396.93,197.97 398.41,200.01 399.89,201.90 401.37,203.67 402.85,205.33 404.33,206.89 405.81,208.37 407.29,209.79 408.77,211.16 410.25,212.47 411.73,213.72 413.21,214.93 414.68,216.08 416.16,217.18 417.64,218.22 419.12,219.22 420.60,220.17 422.08,221.07 423.56,221.92 425.04,222.73 426.52,223.49 428.00,224.20 429.48,224.86 430.96,225.49 432.44,226.06 433.91,226.60 435.39,227.09 436.87,227.54 438.35,227.94 439.83,228.31 441.31,228.64 442.79,228.92 444.27,229.17 445.75,229.38 447.23,229.56 448.71,229.69 450.19,229.79 451.66,229.86 453.14,229.89 454.62,229.88 456.10,229.84 457.58,229.77 459.06,229.67 460.54,229.54 462.02,229.37 463.50,229.17 464.98,228.94 466.46,228.68 467.94,228.38 469.42,228.04 470.89,227.67 472.37,227.27 473.85,226.83 475.33,226.35 476.81,225.83 478.29,225.27 479.77,224.68 481.25,224.04 482.73,223.37 484.21,222.66 485.69,221.90 487.17,221.10 488.64,220.26 490.12,219.38 491.60,218.45 493.08,217.48 494.56,216.46 496.04,215.40 497.52,214.30 499.00,213.14 500.48,211.94 501.96,210.70 503.44,209.40 504.92,208.06 506.40,206.66 507.87,205.22 509.35,203.77 510.83,202.35 512.31,201.02 513.79,199.80 515.27,198.75 516.75,197.92 518.23,197.34 519.71,197.07 521.19,197.14 522.67,197.60 524.15,198.50 525.62,199.89 527.10,201.80 528.58,204.28 530.06,207.37 531.54,211.13 533.02,215.60 534.50,220.81" fill="none" stroke="#e00000" stroke-width="0.8"/>
<rect x="348.30" y="44.80" width="2.6" height="2.6" fill="#e00000"/>
<rect x="349.78" y="45.37" width="2.6" height="2.6" fill="#e00000"/>
<rect x="351.26" y="48.40" width="2.6" height="2.6" fill="#e00000"/>
<rect x="352.74" y="52.77" width="2.6" height="2.6" fill="#e00000"/>
<rect x="354.22" y="58.22" width="2.6" height="2.6" fill="#e00000"/>
<rect x="355.70" y="64.50" width="2.6" height="2.6" fill="#e00000"/>
<rect x="357.18" y="71.35" width="2.6" height="2.6" fill="#e00000"/>
<rect x="358.65" y="78.52" width="2.6" height="2.6" fill="#e00000"/>
<rect x="360.13" y="85.74" width="2.6" height="2.6" fill="#e00000"/>
<rect x="361.61" y="92.80" width="2.6" height="2.6" fill="#e00000"/>
<rect x="363.09" y="99.63" width="2.6" height="2.6" fill="#e00000"/>
<rect x="364.57" y="106.20" width="2.6" height="2.6" fill="#e00000"/>
<rect x="366.05" y="112.51" width="2.6" height="2.6" fill="#e00000"/>
<rect x="367.53" y="118.54" width="2.6" height="2.6" fill="#e00000"/>
<rect x="369.01" y="124.27" width="2.6" height="2.6" fill="#e00000"/>
<rect x="370.49" y="129.70" width="2.6" height="2.6" fill="#e00000"/>
<rect x="371.97" y="134.92" width="2.6" height="2.6" fill="#e00000"/>
<rect x="373.45" y="140.06" width="2.6" height="2.6" fill="#e00000"/>
<rect x="374.93" y="145.22" width="2.6" height="2.6" fill="#e00000"/>
<rect x="376.40" y="150.39" width="2.6" height="2.6" fill="#e00000"/>
<rect x="377.88" y="155.48" width="2.6" height="2.6" fill="#e00000"/>
<rect x="379.36" y="160.38" width="2.6" height="2.6" fill="#e00000"/>
<rect x="380.84" y="165.02" width="2.6" height="2.6" fill="#e00000"/>
<rect x="382.32" y="169.34" width="2.6" height="2.6" fill="#e00000"/>
<rect x="383.80" y="173.37" width="2.6" height="2.6" fill="#e00000"/>
<rect x="385.28" y="177.11" width="2.6" height="2.6" fill="#e00000"/>
<rect x="386.76" y="180.58" width="2.6" height="2.6" fill="#e00000"/>
<rect x="388.24" y="183.80" width="2.6" height="2.6" fill="#e00000"/>
<rect x="389.72" y="186.79" width="2.6" height="2.6" fill="#e00000"/>
<rect x="391.20" y="189.55" width="2.6" height="2.6" fill="#e00000"/>
<rect x="392.68" y="192.11" width="2.6" height="2.6" fill="#e00000"/>
<rect x="394.16" y="194.48" width="2.6" height="2.6" fill="#e00000"/>
<rect x="395.63" y="196.67" width="2.6" height="2.6" fill="#e00000"/>
<rect x="397.11" y="198.71" width="2.6" height="2.6" fill="#e00000"/>
<rect x="398.59" y="200.60" width="2.6" height="2.6" fill="#e00000"/>
<rect x="400.07" y="202.37" width="2.6" height="2.6" fill="#e00000"/>
<rect x="401.55" y="204.03" width="2.6" height="2.6" fill="#e00000"/>
<rect x="403.03" y="205.59" width="2.6" height="2.6" fill="#e00000"/>
<rect x="404.51" y="207.07" width="2.6" height="2.6" fill="#e00000"/>
<rect x="405.99" y="208.49" width="2.6" height="2.6" fill="#e00000"/>
<rect x="407.47" y="209.86" width="2.6" height="2.6" fill="#e00000"/>
<rect x="408.95" y="211.17" width="2.6" height="2.6" fill="#e00000"/>
<rect x="410.43" y="212.42" width="2.6" height="2.6" fill="#e00000"/>
<rect x="411.91" y="213.63" width="2.6" height="2.6" fill="#e00000"/>
<rect x="413.38" y="214.78" width="2.6" height="2.6" fill="#e00000"/>
<rect x="414.86" y="215.88" width="2.6" height="2.6" fill="#e00000"/>
<rect x="416.34" y="216.92" width="2.6" height="2.6" fill="#e00000"/>
<rect x="417.82" y="217.92" width="2.6" height="2.6" fill="#e00000"/>
<rect x="419.30" y="218.87" width="2.6" height="2.6" fill="#e00000"/>
<rect x="420.78" y="219.77" width="2.6" height="2.6" fill="#e00000"/>
<rect x="422.26" y="220.62" width="2.6" height="2.6" fill="#e00000"/>
<rect x="423.74" y="221.43" width="2.6" height="2.6" fill="#e00000"/>
<rect x="425.22" y="222.19" width="2.6" height="2.6" fill="#e00000"/>
<rect x="426.70" y="222.90" width="2.6" height="2.6" fill="#e00000"/>
<rect x="428.18" y="223.56" width="2.6" height="2.6" fill="#e00000"/>
<rect x="429.66" y="224.19" width="2.6" height="2.6" fill="#e00000"/>
<rect x="431.14" y="224.76" width="2.6" height="2.6" fill="#e00000"/>
<rect x="432.61" y="225.30" width="2.6" height="2.6" fill="#e00000"/>
<rect x="434.09" y="225.79" width="2.6" height="2.6" fill="#e00000"/>
<rect x="435.57" y="226.24" width="2.6" height="2.6" fill="#e00000"/>
<rect x="437.05" y="226.64" width="2.6" height="2.6" fill="#e00000"/>
<rect x="438.53" y="227.01" width="2.6" height="2.6" fill="#e00000"/>
<rect x="440.01" y="227.34" width="2.6" height="2.6" fill="#e00000"/>
<rect x="441.49" y="227.62" width="2.6" height="2.6" fill="#e00000"/>
<rect x="442.97" y="227.87" width="2.6" height="2.6" fill="#e00000"/>
<rect x="444.45" y="228.08" width="2.6" height="2.6" fill="#e00000"/>
<rect x="445.93" y="228.26" width="2.6" height="2.6" fill="#e00000"/>
<rect x="447.41" y="228.39" width="2.6" height="2.6" fill="#e00000"/>
<rect x="448.89" y="228.49" width="2.6" height="2.6" fill="#e00000"/>
<rect x="450.36" y="228.56" width="2.6" height="2.6" fill="#e00000"/>
<rect x="451.84" y="228.59" width="2.6" height="2.6" fill="#e00000"/>
<rect x="453.32" y="228.58" width="2.6" height="2.6" fill="#e00000"/>
<rect x="454.80" y="228.54" width="2.6" height="2.6" fill="#e00000"/>
<rect x="456.28" y="228.47" width="2.6" height="2.6" fill="#e00000"/>
<rect x="457.76" y="228.37" width="2.6" height="2.6" fill="#e00000"/>
<rect x="459.24" y="228.24" width="2.6" height="2.6" fill="#e00000"/>
<rect x="460.72" y="228.07" width="2.6" height="2.6" fill="#e00000"/>
<rect x="462.20" y="227.87" width="2.6" height="2.6" fill="#e00000"/>
<rect x="463.68" y="227.64" width="2.6" height="2.6" fill="#e00000"/>
<rect x="465.16" y="227.38" width="2.6" height="2.6" fill="#e00000"/>
<rect x="466.64" y="227.08" width="2.6" height="2.6" fill="#e00000"/>
<rect x="468.12" y="226.74" width="2.6" height="2.6" fill="#e00000"/>
<rect x="469.59" y="226.37" width="2.6" height="2.6" fill="#e00000"/>
<rect x="471.07" y="225.97" width="2.6" height="2.6" fill="#e00000"/>
<rect x="472.55" y="225.53" width="2.6" height="2.6" fill="#e00000"/>
<rect x="474.03" y="225.05" width="2.6" height="2.6" fill="#e00000"/>
<rect x="475.51" y="224.53" width="2.6" height="2.6" fill="#e00000"/>
<rect x="476.99" y="223.97" width="2.6" height="2.6" fill="#e00000"/>
<rect x="478.47" y="223.38" width="2.6" height="2.6" fill="#e00000"/>
<rect x="479.95" y="222.74" width="2.6" height="2.6" fill="#e00000"/>
<rect x="481.43" y="222.07" width="2.6" height="2.6" fill="#e00000"/>
<rect x="482.91" y="221.36" width="2.6" height="2.6" fill="#e00000"/>
<rect x="484.39" y="220.60" width="2.6" height="2.6" fill="#e00000"/>
<rect x="485.87" y="219.80" width="2.6" height="2.6" fill="#e00000"/>
<rect x="487.34" y="218.96" width="2.6" height="2.6" fill="#e00000"/>
<rect x="488.82" y="218.08" width="2.6" height="2.6" fill="#e00000"/>
<rect x="490.30" y="217.15" width="2.6" height="2.6" fill="#e00000"/>
<rect x="491.78" y="216.18" width="2.6" height="2.6" fill="#e00000"/>
<rect x="493.26" y="215.16" width="2.6" height="2.6" fill="#e00000"/>
<rect x="494.74" y="214.10" width="2.6" height="2.6" fill="#e00000"/>
<rect x="496.22" y="213.00" width="2.6" height="2.6" fill="#e00000"/>
<rect x="497.70" y="211.84" width="2.6" height="2.6" fill="#e00000"/>
<rect x="499.18" y="210.64" width="2.6" height="2.6" fill="#e00000"/>
<rect x="500.66" y="209.40" width="2.6" height="2.6" fill="#e00000"/>
<rect x="502.14" y="208.10" width="2.6" height="2.6" fill="#e00000"/>
<rect x="503.62" y="206.76" width="2.6" height="2.6" fill="#e00000"/>
<rect x="505.10" y="205.36" width="2.6" height="2.6" fill="#e00000"/>
<rect x="506.57" y="203.92" width="2.6" height="2.6" fill="#e00000"/>
<rect x="508.05" y="202.47" width="2.6" height="2.6" fill="#e00000"/>
<rect x="509.53" y="201.05" width="2.6" height="2.6" fill="#e00000"/>
<rect x="511.01" y="199.72" width="2.6" height="2.6" fill="#e00000"/>
<rect x="512.49" y="198.50" width="2.6" height="2.6" fill="#e00000"/>
<rect x="513.97" y="197.45" width="2.6" height="2.6" fill="#e00000"/>
<rect x="515.45" y="196.62" width="2.6" height="2.6" fill="#e00000"/>
<rect x="516.93" y="196.04" width="2.6" height="2.6" fill="#e00000"/>
<rect x="518.41" y="195.77" width="2.6" height="2.6" fill="#e00000"/>
<rect x="519.89" y="195.84" width="2.6" height="2.6" fill="#e00000"/>
<rect x="521.37" y="196.30" width="2.6" height="2.6" fill="#e00000"/>
<rect x="522.85" y="197.20" width="2.6" height="2.6" fill="#e00000"/>
<rect x="524.32" y="198.59" width="2.6" height="2.6" fill="#e00000"/>
<rect x="525.80" y="200.50" width="2.6" height="2.6" fill="#e00000"/>
<rect x="527.28" y="202.98" width="2.6" height="2.6" fill="#e00000"/>
<rect x="528.76" y="206.07" width="2.6" height="2.6" fill="#e00000"/>
<rect x="530.24" y="209.83" width="2.6" height="2.6" fill="#e00000"/>
<rect x="531.72" y="214.30" width="2.6" height="2.6" fill="#e00000"/>
<rect x="533.20" y="219.51" width="2.6" height="2.6" fill="#e00000"/>
<line x1="343.75" y1="14.45" x2="540.20" y2="14.45" stroke="#000" stroke-width="2.7"/>
<line x1="343.75" y1="247.4" x2="540.20" y2="247.4" stroke="#000" stroke-width="2.7"/>
<line x1="343.75" y1="13.1" x2="343.75" y2="248.7" stroke="#e00000" stroke-width="2.7"/>
<line x1="540.20" y1="13.1" x2="540.20" y2="248.7" stroke="#0074d0" stroke-width="2.5"/>
<line x1="338.75" y1="14.50" x2="343.75" y2="14.50" stroke="#e00000" stroke-width="2.3"/>
<text x="337.55" y="19.60" fill="#e00000" text-anchor="end">1.0</text>
<line x1="338.75" y1="50.33" x2="343.75" y2="50.33" stroke="#e00000" stroke-width="2.3"/>
<text x="337.55" y="55.43" fill="#e00000" text-anchor="end">0.9</text>
<line x1="338.75" y1="86.16" x2="343.75" y2="86.16" stroke="#e00000" stroke-width="2.3"/>
<text x="337.55" y="91.26" fill="#e00000" text-anchor="end">0.8</text>
<line x1="338.75" y1="121.99" x2="343.75" y2="121.99" stroke="#e00000" stroke-width="2.3"/>
<text x="337.55" y="127.09" fill="#e00000" text-anchor="end">0.7</text>
<line x1="338.75" y1="157.82" x2="343.75" y2="157.82" stroke="#e00000" stroke-width="2.3"/>
<text x="337.55" y="162.92" fill="#e00000" text-anchor="end">0.6</text>
<line x1="338.75" y1="193.65" x2="343.75" y2="193.65" stroke="#e00000" stroke-width="2.3"/>
<text x="337.55" y="198.75" fill="#e00000" text-anchor="end">0.5</text>
<line x1="338.75" y1="229.48" x2="343.75" y2="229.48" stroke="#e00000" stroke-width="2.3"/>
<text x="337.55" y="234.58" fill="#e00000" text-anchor="end">0.4</text>
<line x1="540.20" y1="26.20" x2="545.20" y2="26.20" stroke="#0074d0" stroke-width="2.3"/>
<text x="548.70" y="31.00" fill="#0074d0">180</text>
<line x1="540.20" y1="61.15" x2="545.20" y2="61.15" stroke="#0074d0" stroke-width="2.3"/>
<text x="548.70" y="65.95" fill="#0074d0">150</text>
<line x1="540.20" y1="96.10" x2="545.20" y2="96.10" stroke="#0074d0" stroke-width="2.3"/>
<text x="548.70" y="100.90" fill="#0074d0">120</text>
<line x1="540.20" y1="131.05" x2="545.20" y2="131.05" stroke="#0074d0" stroke-width="2.3"/>
<text x="548.70" y="135.85" fill="#0074d0">90</text>
<line x1="540.20" y1="166.00" x2="545.20" y2="166.00" stroke="#0074d0" stroke-width="2.3"/>
<text x="548.70" y="170.80" fill="#0074d0">60</text>
<line x1="540.20" y1="200.95" x2="545.20" y2="200.95" stroke="#0074d0" stroke-width="2.3"/>
<text x="548.70" y="205.75" fill="#0074d0">30</text>
<line x1="540.20" y1="235.90" x2="545.20" y2="235.90" stroke="#0074d0" stroke-width="2.3"/>
<text x="548.70" y="240.70" fill="#0074d0">0</text>
<line x1="349.60" y1="247.4" x2="349.60" y2="253" stroke="#000" stroke-width="2.1"/>
<text x="350.20" y="267.2" fill="#000" text-anchor="middle">14</text>
<line x1="386.58" y1="247.4" x2="386.58" y2="253" stroke="#000" stroke-width="2.1"/>
<text x="387.18" y="267.2" fill="#000" text-anchor="middle">39</text>
<line x1="423.56" y1="247.4" x2="423.56" y2="253" stroke="#000" stroke-width="2.1"/>
<text x="424.16" y="267.2" fill="#000" text-anchor="middle">64</text>
<line x1="460.54" y1="247.4" x2="460.54" y2="253" stroke="#000" stroke-width="2.1"/>
<text x="461.14" y="267.2" fill="#000" text-anchor="middle">89</text>
<line x1="497.52" y1="247.4" x2="497.52" y2="253" stroke="#000" stroke-width="2.1"/>
<text x="498.12" y="267.2" fill="#000" text-anchor="middle">114</text>
<line x1="534.50" y1="247.4" x2="534.50" y2="253" stroke="#000" stroke-width="2.1"/>
<text x="535.10" y="267.2" fill="#000" text-anchor="middle">139</text>
<text transform="translate(315.60,133) rotate(-90)" fill="#e00000" text-anchor="middle">Normalized Magnitude</text>
<text transform="translate(576.70,132.9) rotate(90)" fill="#0074d0" text-anchor="middle">Resonant phase ( ° )</text>
<text transform="translate(422.50,285.5) skewX(-8) scale(1.14,1)" fill="#000" font-style="italic">β</text><text x="434.80" y="286.6" fill="#000">( ° )</text>
<text x="436.80" y="316" fill="#000" text-anchor="middle" >(<tspan font-weight="bold">b</tspan>)</text>
<text x="449.00" y="47.5" fill="#000" text-anchor="middle">RCP incident wave</text>
<text x="449.20" y="67.5" fill="#000" text-anchor="middle"><tspan font-style="italic">α</tspan> = 90°</text>
<ellipse cx="372.20" cy="129.3" rx="9.3" ry="23.7" fill="none" stroke="#000" stroke-width="1.8"/>
<line x1="355.60" y1="129.9" x2="362.90" y2="129.9" stroke="#000" stroke-width="2"/>
<polygon points="345.00,129.9 356.90,124.1 356.90,135.8" fill="#000"/>
<ellipse cx="487.20" cy="104" rx="9.2" ry="23.8" fill="none" stroke="#000" stroke-width="1.8"/>
<line x1="496.20" y1="103.4" x2="503.60" y2="103.4" stroke="#000" stroke-width="2"/>
<polygon points="514.00,103.4 502.90,98 502.90,108.7" fill="#000"/>
<clipPath id="cb"><rect x="418.7" y="142.3" width="74.5" height="73.6"/></clipPath>
<rect x="418.7" y="142.3" width="74.5" height="73.6" fill="#e8e400"/>
<g clip-path="url(#cb)">
<circle cx="456.5" cy="178.5" r="34.4" fill="#20da82"/>
<polygon points="456.5,178.5 396.50,142.45 396.50,214.55" fill="#e8e400"/>
<polygon points="456.5,178.5 516.50,142.45 516.50,214.55" fill="#e8e400"/>
<circle cx="456.5" cy="178.5" r="20.0" fill="#e8e400"/>
<rect x="448.85" y="157.50" width="15.3" height="42.00" fill="#20da82"/>
</g>
<line x1="432.6" y1="165.3" x2="439.6" y2="168.9" stroke="#000" stroke-width="1.9"/>
<line x1="432.6" y1="192.2" x2="439.6" y2="188.6" stroke="#000" stroke-width="1.9"/>
<path d="M443.5,171.8 Q438.5,179 443.5,186.2" fill="none" stroke="#000" stroke-width="1.8"/>
<path d="M442.6,171 L447.4,172.6" fill="none" stroke="#000" stroke-width="1.7"/>
<path d="M442.6,187 L447.4,185.4" fill="none" stroke="#000" stroke-width="1.7"/>
<line x1="455.9" y1="153" x2="455.9" y2="176" stroke="#000" stroke-width="1.7" stroke-dasharray="5.2,3"/>
<polyline points="452,175.5 455.8,179.2 452.8,181.6" fill="none" stroke="#000" stroke-width="1.7"/>
<text transform="translate(431.6,186.2) skewX(-8) scale(1.12,1)" fill="#000" font-style="italic" text-anchor="middle" font-size="15">β</text>
<text x="459.8" y="193.8" fill="#000" font-style="italic" text-anchor="middle" font-size="17.5">O</text>
<text x="470.5" y="175.8" fill="#000" font-size="17"><tspan font-style="italic">α</tspan> = 90°</text>

<polyline points="621.70,251.60 623.40,225.20 624.60,208.50 625.80,184.60 627.00,198.90 628.20,187.00 629.00,200.15 629.80,213.30 630.43,224.16 631.07,232.41 631.70,243.20 632.90,201.30 634.10,210.90 634.90,201.06 635.70,195.20 636.50,189.40 637.70,181.00 639.00,232.40 640.10,201.30 640.67,203.13 641.23,211.08 641.80,215.70 642.50,213.72 643.20,203.70 643.77,206.22 644.33,209.84 644.90,215.70 646.10,234.80 647.30,206.10 648.50,220.50 649.70,208.50 650.27,216.34 650.83,222.30 651.40,227.60 652.10,217.17 652.80,206.10 653.37,207.31 653.93,214.01 654.50,218.10 655.70,208.50 656.33,215.35 656.97,214.00 657.60,222.80 658.17,217.46 658.73,209.16 659.30,210.90 659.83,213.40 660.37,218.11 660.90,230.00 661.53,218.13 662.17,203.86 662.80,196.50 664.00,232.40 665.00,212.80 665.70,210.26 666.40,206.10 666.97,206.20 667.53,204.81 668.10,205.00 668.80,206.35 669.50,222.80 670.10,219.42 670.70,219.12 671.30,217.50 672.07,215.89 672.85,209.01 673.62,210.22 674.40,209.70 675.04,209.28 675.68,212.31 676.32,220.44 676.96,217.36 677.60,222.30 678.38,217.08 679.15,214.70 679.93,205.17 680.70,201.80 681.48,205.01 682.25,209.23 683.02,212.64 683.80,216.00 684.44,209.80 685.08,211.19 685.72,212.52 686.36,201.28 687.00,203.40 687.77,210.70 688.55,213.21 689.33,215.65 690.10,222.30 690.73,233.78 691.35,235.54 691.98,235.13 692.60,244.20 693.33,232.92 694.07,222.93 694.80,209.70 695.44,210.07 696.08,213.63 696.72,212.32 697.36,215.46 698.00,214.40 698.77,215.97 699.55,206.87 700.33,206.76 701.10,203.40 701.63,204.11 702.17,207.98 702.70,209.70 703.50,191.99 704.30,181.40 705.05,185.96 705.80,194.00 706.33,185.01 706.87,179.90 707.40,168.80 707.93,186.90 708.47,194.16 709.00,212.80 709.53,192.62 710.07,179.14 710.60,159.40 711.35,181.72 712.10,216.00 712.63,208.31 713.17,203.11 713.70,197.10 714.60,234.80 715.90,216.00 716.80,181.40 717.80,178.30 718.40,184.60" fill="none" stroke="#0074d0" stroke-width="1.1" stroke-linejoin="round"/>
<polyline points="621.70,251.00 622.80,199.40 624.30,169.80 625.60,176.80 627.50,171.40 628.70,183.80 629.80,172.90 631.40,172.20 632.10,153.50 632.90,172.90 634.50,172.20 635.30,175.30 636.50,171.40 638.40,163.60 639.20,162.80 639.90,180.70 641.50,172.90 643.00,162.80 644.60,176.80 646.20,165.10 647.70,172.90 649.30,166.70 650.80,169.00 652.40,169.10 654.00,171.60 655.60,170.10 657.20,172.20 658.80,169.90 660.40,172.60 662.00,169.80 663.60,172.00 665.20,171.30 666.80,172.50 668.40,170.50 670.00,172.20 671.60,171.30 673.20,173.10 674.80,171.10 676.40,172.50 678.00,171.30 679.60,173.20 681.20,171.70 682.80,172.70 684.40,171.20 686.00,173.30 687.60,172.10 689.20,172.90 690.80,171.90 692.40,176.40 693.40,172.60 694.80,176.30 696.40,173.00 698.00,173.50 699.60,171.80 701.20,173.40 702.70,169.50 704.30,167.50 705.80,165.70 707.40,167.80 709.00,168.80 710.60,166.20 712.10,167.30 713.70,169.80 715.30,169.50 716.60,166.50 717.80,177.60" fill="none" stroke="#e00000" stroke-width="1.0" stroke-linejoin="round"/>
<line x1="618.8" y1="153.0" x2="722.1" y2="153.0" stroke="#444" stroke-width="1.5"/>
<line x1="618.8" y1="251.4" x2="722.1" y2="251.4" stroke="#000" stroke-width="1.4"/>
<line x1="618.8" y1="152.3" x2="618.8" y2="252.1" stroke="#e00000" stroke-width="1.4"/>
<line x1="722.1" y1="152.3" x2="722.1" y2="252.1" stroke="#0074d0" stroke-width="1.4"/>
<line x1="616.8" y1="153.0" x2="618.8" y2="153.0" stroke="#e00000" stroke-width="1.2"/>
<line x1="616.8" y1="251.4" x2="618.8" y2="251.4" stroke="#e00000" stroke-width="1.2"/>
<line x1="722.1" y1="163.2" x2="724.6" y2="163.2" stroke="#0074d0" stroke-width="1.2"/>
<line x1="722.1" y1="251.4" x2="724.6" y2="251.4" stroke="#0074d0" stroke-width="1.2"/>
<line x1="621.7" y1="251.4" x2="621.7" y2="253.4" stroke="#000" stroke-width="1.2"/>
<line x1="719.8" y1="251.4" x2="719.8" y2="253.4" stroke="#000" stroke-width="1.2"/>
<text x="609.6" y="158.7" fill="#e00000" text-anchor="end">1</text>
<text x="611.5" y="148.6" fill="#e00000">×10<tspan font-size="10.5" dy="-7.2">−3</tspan></text>
<text x="615.5" y="252.3" fill="#e00000" text-anchor="end">−4.5</text>
<text x="726" y="168.6" fill="#0074d0">0.4</text>
<text x="726" y="256" fill="#0074d0">0.0</text>
<text x="622.6" y="267.3" fill="#000" text-anchor="middle">14</text>
<text x="718.6" y="267.3" fill="#000" text-anchor="middle">139</text>
<text transform="translate(651.70,285.5) skewX(-8) scale(1.14,1)" fill="#000" font-style="italic">β</text><text x="664.00" y="286.6" fill="#000">( ° )</text>
<text x="668.5" y="317" fill="#000" text-anchor="middle" >(<tspan font-weight="bold">c</tspan>)</text>
<line x1="599.4" y1="48.5" x2="617.6" y2="48.5" stroke="#e00000" stroke-width="1.3"/>
<line x1="599.4" y1="95.4" x2="617.6" y2="95.4" stroke="#0074d0" stroke-width="1.3"/>
<text x="623.8" y="47" fill="#e00000" font-size="15.3">Normalized Magnitude</text>
<text x="623.8" y="64.8" fill="#e00000" font-size="15.3">difference</text>
<text x="619.8" y="93" fill="#0074d0" font-size="15.3">Resonant phase</text>
<text x="620.6" y="111.3" fill="#0074d0" font-size="15.3">difference ( ° )</text>

<line x1="203.7" y1="293.9" x2="237.2" y2="293.9" stroke="#e00000" stroke-width="1.5"/>
<rect x="216.6" y="290.2" width="7.0" height="7.4" fill="#e00000"/>
<text x="246.5" y="299.4" fill="#000">Normalized Magnitude</text>
<line x1="203.7" y1="319.4" x2="237.2" y2="319.4" stroke="#0074d0" stroke-width="1.5"/>
<circle cx="219.8" cy="319.4" r="3.8" fill="#0074d0"/>
<text x="246.5" y="324.7" fill="#000">Resonant phase ( ° )</text>

</svg></body></html>
